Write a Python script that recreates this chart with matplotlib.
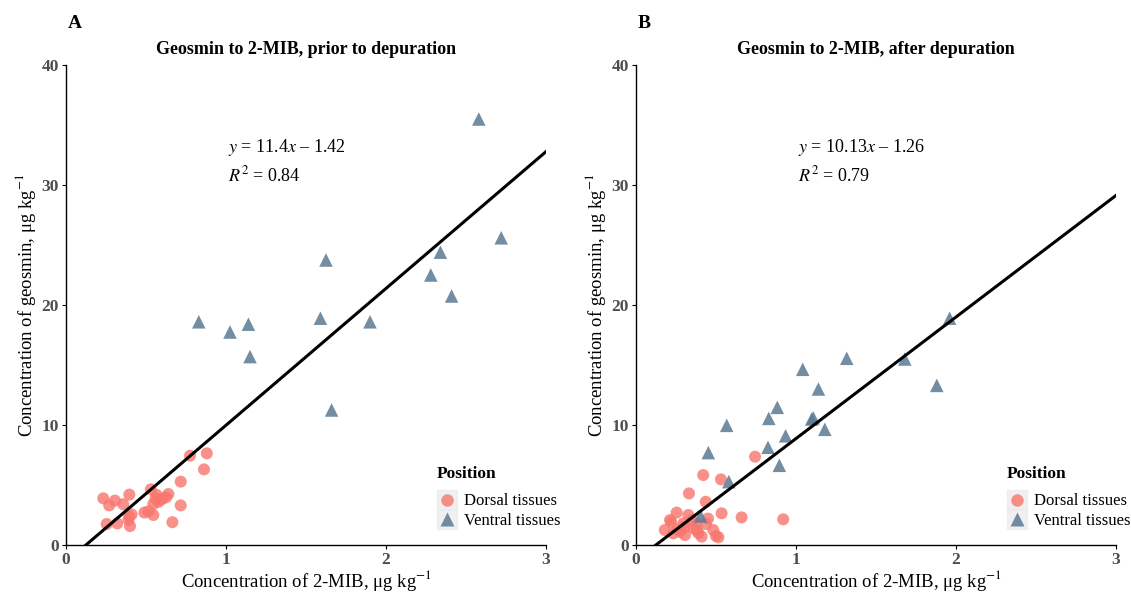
import numpy as np
import matplotlib
matplotlib.use('Agg')
import matplotlib.pyplot as plt
from matplotlib.lines import Line2D
from matplotlib.legend_handler import HandlerTuple

plt.rcParams['font.family'] = ['Liberation Serif', 'DejaVu Serif']
plt.rcParams['mathtext.fontset'] = 'stix'

# panel A: prior to depuration
dorsal_a_x = [0.775, 0.88, 0.8625, 0.717, 0.717, 0.665, 0.233, 0.27, 0.306, 0.358, 0.396,
              0.254, 0.32, 0.396, 0.41, 0.40, 0.39, 0.49, 0.515, 0.546, 0.53, 0.567, 0.546,
              0.577, 0.598, 0.625, 0.64, 0.56]
dorsal_a_y = [7.44, 7.64, 6.3, 5.28, 3.3, 1.9, 3.89, 3.3, 3.7, 3.4, 4.2,
              1.75, 1.8, 2.4, 2.55, 1.58, 2.1, 2.7, 2.8, 2.5, 4.64, 4.17, 3.42,
              3.6, 3.8, 3.97, 4.25, 3.9]
ventral_a_x = [2.58, 2.34, 2.28, 2.72, 2.41, 1.625, 1.59, 1.9, 0.83, 1.025, 1.14, 1.15, 1.66]
ventral_a_y = [35.5, 24.4, 22.5, 25.6, 20.75, 23.75, 18.9, 18.6, 18.6, 17.75, 18.4, 15.7, 11.25]

# panel B: after depuration
dorsal_b_x = [0.744, 0.42, 0.531, 0.331, 0.436, 0.535, 0.66, 0.92, 0.254, 0.2125, 0.18,
              0.22, 0.327, 0.348, 0.379, 0.296, 0.275, 0.379, 0.41, 0.306, 0.233, 0.4375,
              0.483, 0.5, 0.515, 0.30, 0.36, 0.26, 0.39, 0.45]
dorsal_b_y = [7.36, 5.83, 5.47, 4.3, 3.6, 2.64, 2.3, 2.14, 2.7, 2.08, 1.25,
              1.9, 2.5, 2.08, 1.8, 1.8, 1.1, 1.25, 0.7, 0.83, 0.97, 1.75,
              1.25, 0.75, 0.64, 1.5, 1.4, 1.3, 1.0, 2.2]
ventral_b_x = [1.317, 1.042, 1.14, 0.883, 0.83, 1.108, 1.098, 1.18, 0.567, 0.935, 0.452,
               0.825, 0.896, 0.58, 0.404, 1.68, 1.96, 1.88]
ventral_b_y = [15.56, 14.64, 13.0, 11.47, 10.55, 10.6, 10.5, 9.64, 9.97, 9.1, 7.7,
               8.14, 6.64, 5.28, 2.42, 15.5, 18.9, 13.3]

fits = [(11.4, -1.42, '$y$ = 11.4$x$ – 1.42', '$R^2$ = 0.84'),
        (10.13, -1.26, '$y$ = 10.13$x$ – 1.26', '$R^2$ = 0.79')]
titles = ['Geosmin to 2-MIB, prior to depuration', 'Geosmin to 2-MIB, after depuration']
panel_labels = ['A', 'B']

dorsal_col = '#F8766D'
ventral_col = '#5B7A93'

fig = plt.figure(figsize=(11.31, 5.92), dpi=100)
lefts = [66 / 1131, 636 / 1131]
data = [(dorsal_a_x, dorsal_a_y, ventral_a_x, ventral_a_y),
        (dorsal_b_x, dorsal_b_y, ventral_b_x, ventral_b_y)]

for i in range(2):
    ax = fig.add_axes([lefts[i], 47 / 592, 480 / 1131, 480 / 592])
    dx, dy, vx, vy = data[i]
    ax.scatter(dx, dy, s=75, color=dorsal_col, alpha=0.8, edgecolors='none',
               marker='o', zorder=2)
    ax.scatter(vx, vy, s=95, color=ventral_col, alpha=0.85, edgecolors='none',
               marker='^', zorder=2)
    slope, icpt, eq, r2 = fits[i]
    xs = np.array([-icpt / slope, 3])
    ax.plot(xs, slope * xs + icpt, color='black', lw=2.2, zorder=3)
    ax.text(1.01, 33.1, eq, fontsize=13, va='center', ha='left')
    ax.text(1.01, 30.8, r2, fontsize=13, va='center', ha='left')

    ax.set_xlim(0, 3)
    ax.set_ylim(0, 40)
    ax.set_xticks([0, 1, 2, 3])
    ax.set_yticks([0, 10, 20, 30, 40])
    for s in ['top', 'right']:
        ax.spines[s].set_visible(False)
    for s in ['left', 'bottom']:
        ax.spines[s].set_linewidth(1.0)
    ax.tick_params(direction='out', length=3, width=0.8, labelsize=12.5,
                   labelcolor='#4D4D4D', pad=2)
    for lab in ax.get_xticklabels() + ax.get_yticklabels():
        lab.set_fontweight('bold')
    ax.set_xlabel('Concentration of 2-MIB, μg kg$^{-1}$', fontsize=13.5, labelpad=0)
    ax.set_ylabel('Concentration of geosmin, μg kg$^{-1}$', fontsize=13.5, labelpad=3)
    ax.set_title(titles[i], fontsize=13, fontweight='bold', pad=8)

    # legend with grey key background like ggplot
    bg = Line2D([], [], marker='s', markersize=15, color='#EBEBEB', alpha=0.7, ls='none')
    h_d = Line2D([], [], marker='o', markersize=9, color=dorsal_col, alpha=0.8,
                 markeredgecolor='none', ls='none')
    h_v = Line2D([], [], marker='^', markersize=10, color=ventral_col, alpha=0.85,
                 markeredgecolor='none', ls='none')
    leg = ax.legend([(bg, h_d), (bg, h_v)], ['Dorsal tissues', 'Ventral tissues'],
                    handler_map={tuple: HandlerTuple(ndivide=1)},
                    loc='lower left', bbox_to_anchor=(0.76, 0.02), frameon=False,
                    fontsize=12, handletextpad=0.4, labelspacing=0.2,
                    borderaxespad=0, handlelength=1.2)
    ax.text(0.773, 0.148, 'Position', transform=ax.transAxes, fontsize=12.5,
            fontweight='bold', ha='left', va='center')

    fig.text(lefts[i] + 0.0015, 0.96, panel_labels[i], fontsize=14,
             fontweight='bold', ha='left', va='center')

fig.savefig('out.png', dpi=100)
